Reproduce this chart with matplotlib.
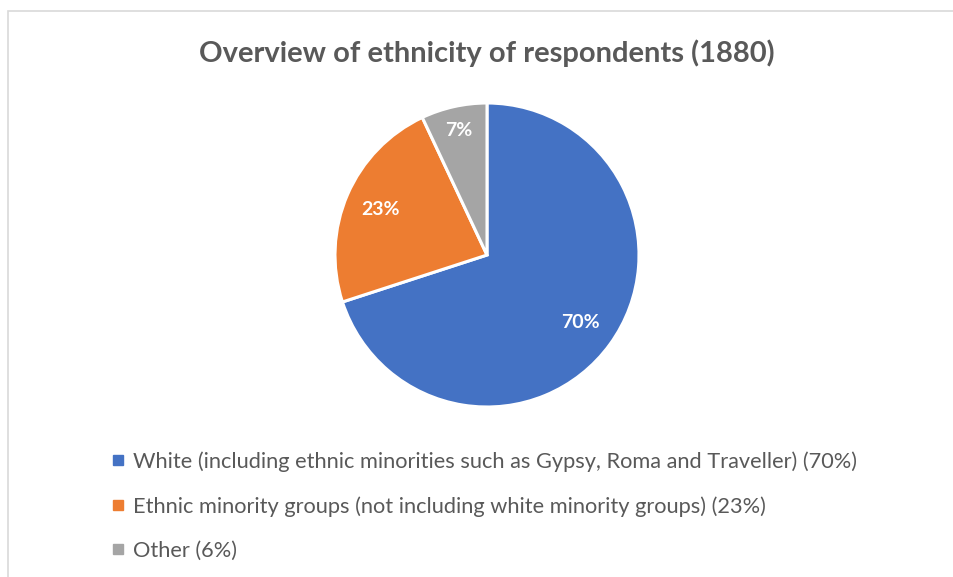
import matplotlib
matplotlib.use("Agg")
import matplotlib.pyplot as plt
import numpy as np
from matplotlib.lines import Line2D
from matplotlib.patches import Rectangle

plt.rcParams["font.family"] = ["Lato", "DejaVu Sans"]

# data
categories = [
    "White (including ethnic minorities such as Gypsy, Roma and Traveller) (70%)",
    "Ethnic minority groups (not including white minority groups) (23%)",
    "Other (6%)",
]
shares = [70, 23, 7]
slice_labels = ["70%", "23%", "7%"]
colors = ["#4472C4", "#ED7D31", "#A5A5A5"]

TXT = "#595959"
W, H = 954, 577

fig = plt.figure(figsize=(W / 100, H / 100), dpi=100)
fig.patch.set_facecolor("white")

# chart frame (light grey, runs off the right / bottom edges)
fig.patches.append(Rectangle((8.5 / W, -0.05), 1.2, 1 - 11 / H + 0.05,
                             transform=fig.transFigure, fill=False,
                             edgecolor="#D9D9D9", lw=1.2))

fig.text(487 / W, 1 - 53 / H, "Overview of ethnicity of respondents (1880)",
         ha="center", va="center", fontsize=21, fontweight="bold", color=TXT)

# pie: centre (487, 255), radius 152 px
r = 152
ax = fig.add_axes([(487 - r) / W, 1 - (255 + r) / H, 2 * r / W, 2 * r / H])
wedges, _ = ax.pie(shares, colors=colors, startangle=90, counterclock=False,
                   wedgeprops=dict(edgecolor="white", linewidth=2.2))
ax.set_xlim(-1, 1)
ax.set_ylim(-1, 1)
ax.set_aspect("equal")

# label placement (fraction of radius) per slice
label_dist = [0.76, 0.76, 0.84]
for w, lab, d in zip(wedges, slice_labels, label_dist):
    mid = np.deg2rad((w.theta1 + w.theta2) / 2)
    ax.text(d * np.cos(mid), d * np.sin(mid), lab, ha="center", va="center",
            fontsize=14, fontweight="bold", color="white", clip_on=False)

handles = [Line2D([], [], marker="s", ls="none", markersize=7,
                  markerfacecolor=c, markeredgecolor=c) for c in colors]
fig.legend(handles, categories, loc="upper left",
           bbox_to_anchor=(112 / W, 1 - 451 / H), frameon=False,
           fontsize=15.7, labelcolor=TXT, handlelength=0.55, handletextpad=0.4,
           labelspacing=1.12, borderpad=0, borderaxespad=0)

fig.savefig("out.png", dpi=100, facecolor="white")
